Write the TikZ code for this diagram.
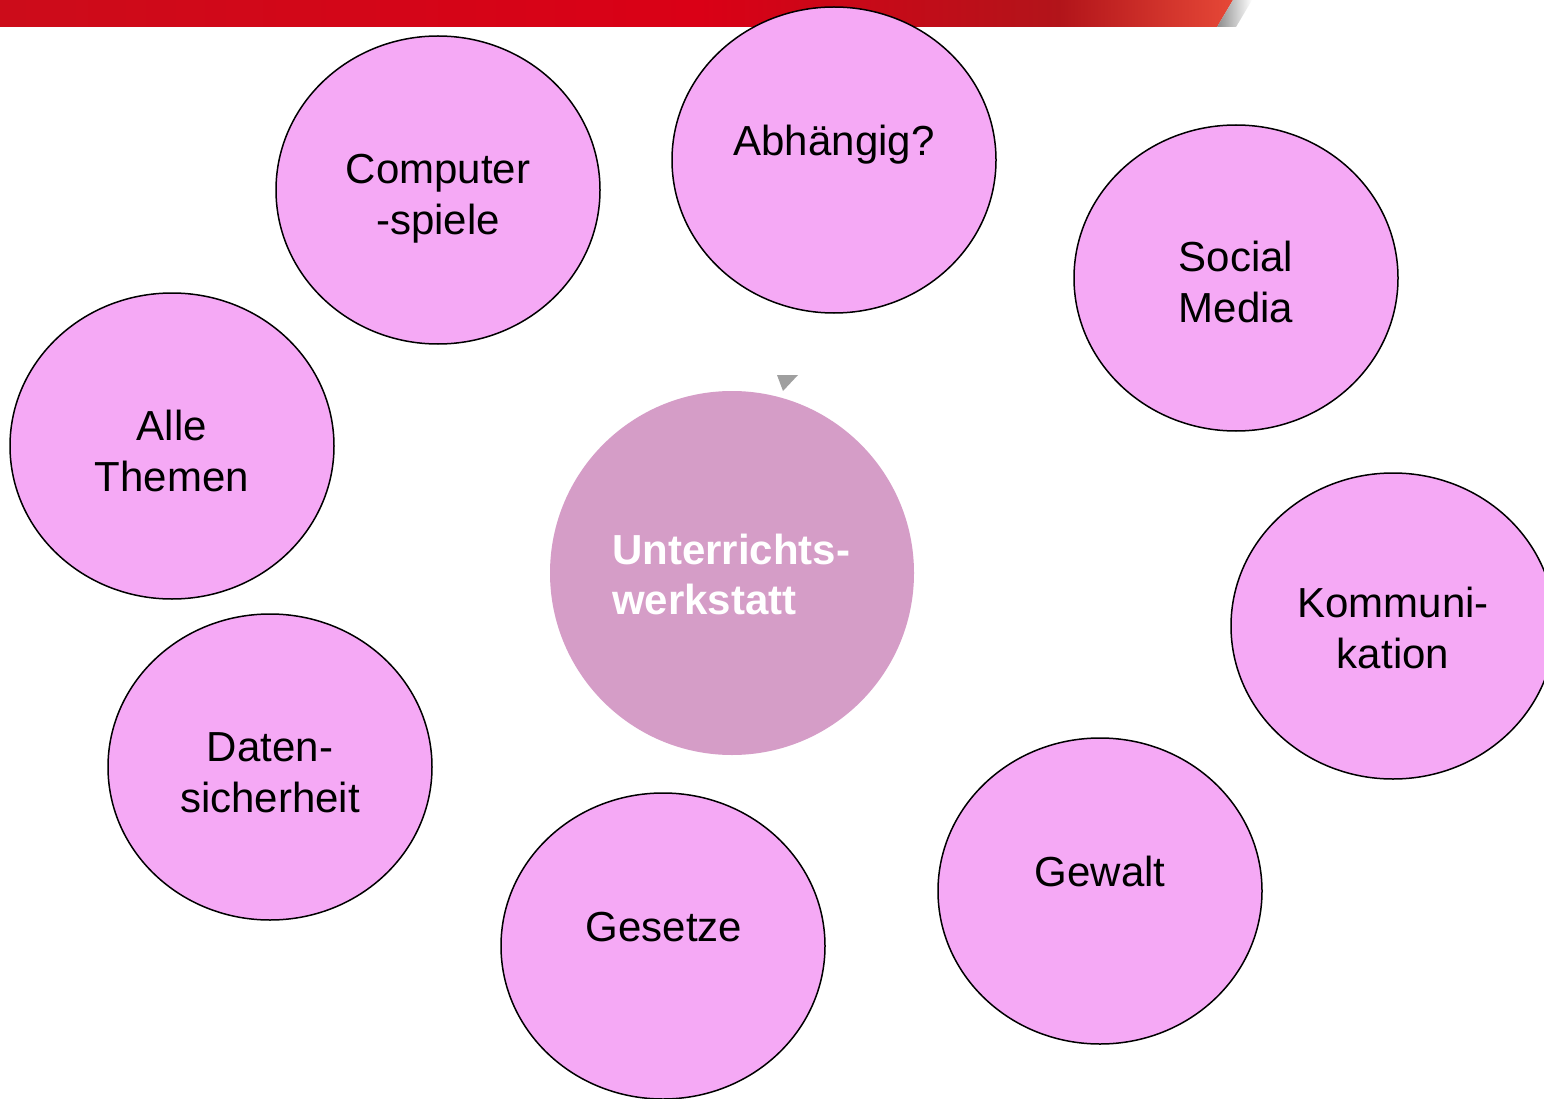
\documentclass[tikz,border=0pt]{standalone}
\usepackage{fontspec}
\setmainfont{Liberation Sans}
\definecolor{bubble}{RGB}{245,169,245}
\definecolor{hub}{RGB}{213,157,199}
\definecolor{barA}{RGB}{204,12,26}
\definecolor{barB}{RGB}{218,0,22}
\definecolor{barC}{RGB}{178,20,26}
\definecolor{barD}{RGB}{232,74,56}
\tikzset{
  bubble/.style={draw=black,line width=1.5pt,fill=bubble},
  lbl/.style={inner sep=0pt,align=center,font=\fontsize{42}{51}\selectfont,text=black},
  hubtext/.style={inner sep=0pt,align=left,font=\fontsize{42}{50}\selectfont\bfseries,text=white}
}
\begin{document}
\begin{tikzpicture}[x=1pt,y=-1pt]
\useasboundingbox (0,0) rectangle (1544,1099);
\clip (0,0) rectangle (1544,1099);
\fill[white] (0,0) rectangle (1544,1099);
% top bar
\begin{scope}
  \clip (0,0) -- (1233,0) -- (1217,27) -- (0,27) -- cycle;
  \shade[left color=barA,right color=barB] (0,0) rectangle (700,27);
  \shade[left color=barB,right color=barC] (699,0) rectangle (1060,27);
  \shade[left color=barC,right color=barD] (1059,0) rectangle (1240,27);
\end{scope}
\shade[left color=gray!90,right color=white] (1217,27) -- (1233,0) -- (1252,0) -- (1236,27) -- cycle;
% outer bubbles
\draw[bubble] (438,190) ellipse [x radius=162,y radius=154];
\draw[bubble] (834,160) ellipse [x radius=162,y radius=153];
\draw[bubble] (1236,278) ellipse [x radius=162,y radius=153];
\draw[bubble] (172,446) ellipse [x radius=162,y radius=153];
\draw[bubble] (1393,626) ellipse [x radius=162,y radius=153];
\draw[bubble] (270,767) ellipse [x radius=162,y radius=153];
\draw[bubble] (663,946) ellipse [x radius=162,y radius=153];
\draw[bubble] (1100,891) ellipse [x radius=162,y radius=153];
% hub
\fill[hub] (732,573) circle [radius=182];
\fill[gray!75] (777,375) -- (798,375) -- (783,391) -- cycle;
% labels
\node[lbl] (computer) at (438,199) {\strut Computer\\\strut -spiele};
\node[lbl] (abh) at (834,145) {\strut Abhängig?};
\node[lbl] (social) at (1236,287) {\strut Social\\\strut Media};
\node[lbl] (alle) at (172,456) {\strut Alle\\\strut Themen};
\node[lbl] (komm) at (1393,633) {\strut Kommuni-\\\strut kation};
\node[lbl] (daten) at (270,777) {\strut Daten-\\\strut sicherheit};
\node[lbl] (gesetze) at (664,931) {\strut Gesetze};
\node[lbl] (gewalt) at (1100,876) {\strut Gewalt};
\node[hubtext,anchor=west] (hub) at (612,579) {\strut Unterrichts-\\\strut werkstatt};
\end{tikzpicture}
\end{document}
